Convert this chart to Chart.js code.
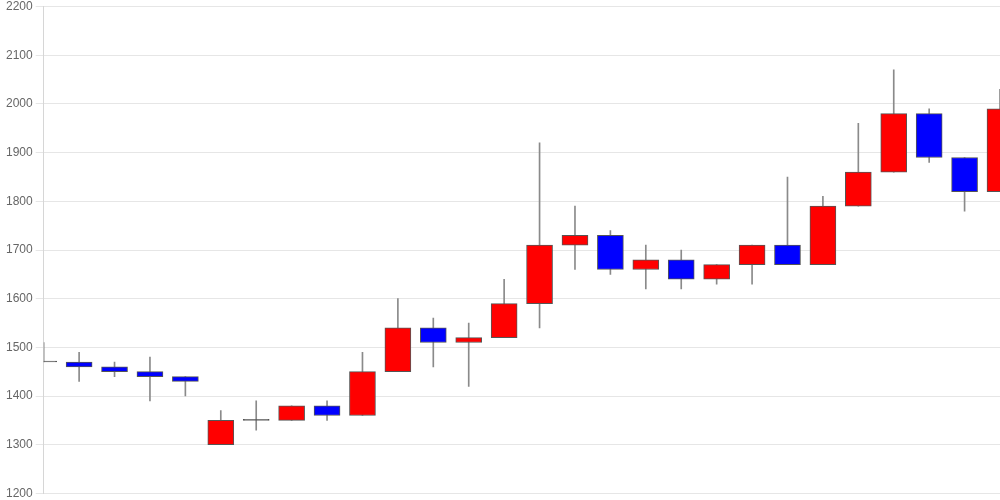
<!DOCTYPE html>
<html>
<head>
<meta charset="utf-8">
<script src="https://cdn.jsdelivr.net/npm/chart.js@4/dist/chart.umd.min.js"></script>
<style>
  html, body { margin: 0; padding: 0; background: #fff; }
  #wrap { width: 1000px; height: 500px; position: relative; }
</style>
</head>
<body>
<div id="wrap"><canvas id="candleChart"></canvas></div>
<script>
// ── Daily candles ───────────────────────────────
const days   = ['1','2','3','4','5','6','7','8','9','10','11','12','13','14',
                '15','16','17','18','19','20','21','22','23','24','25','26','27','28'];
const opens  = [1470,1470,1460,1450,1440,1300,1350,1350,1380,1360,1450,1540,1510,1520,
                1590,1710,1730,1660,1680,1640,1670,1710,1670,1790,1860,1980,1890,1820];
const closes = [1470,1460,1450,1440,1430,1350,1350,1380,1360,1450,1540,1510,1520,1590,
                1710,1730,1660,1680,1640,1670,1710,1670,1790,1860,1980,1890,1820,1990];
const highs  = [1510,1490,1470,1480,1440,1370,1390,1380,1390,1490,1600,1560,1550,1640,
                1920,1790,1740,1710,1700,1670,1710,1850,1810,1960,2070,1990,1890,2030];
const lows   = [1470,1430,1440,1390,1400,1300,1330,1350,1350,1360,1450,1460,1420,1520,
                1540,1660,1650,1620,1620,1630,1630,1670,1670,1790,1860,1880,1780,1820];
const yTicks = [1200,1300,1400,1500,1600,1700,1800,1900,2000,2100,2200];

const bodyColors = opens.map((o, i) => closes[i] > o ? '#ff0000' : (closes[i] < o ? '#0000ff' : '#555'));

new Chart(document.getElementById('candleChart').getContext('2d'), {
  type: 'bar',
  data: {
    labels: days,
    datasets: [
      { // wicks
        data: lows.map((l, i) => [l, highs[i]]),
        backgroundColor: '#8a8a8a', borderWidth: 0,
        barThickness: 1, grouped: false, order: 2
      },
      { // bodies
        data: opens.map((o, i) => [o, closes[i]]),
        backgroundColor: bodyColors, borderColor: '#555', borderWidth: 1,
        borderSkipped: false, barThickness: 26, minBarLength: 1,
        grouped: false, order: 1
      }
    ]
  },
  options: {
    responsive: true, maintainAspectRatio: false, animation: false,
    layout: { padding: { left: 3 } },
    plugins: { legend: { display: false }, tooltip: { enabled: false } },
    scales: {
      x: { display: false, offset: false, grid: { display: false } },
      y: {
        min: 1200, max: 2200,
        afterBuildTicks: axis => { axis.ticks = yTicks.map(v => ({ value: v })); },
        grid: { color: '#e6e6e6' },
        border: { color: '#d6d6d6' },
        ticks: { color: '#666', font: { size: 12, lineHeight: 0.6 }, callback: v => String(v) }
      }
    }
  }
});
</script>
</body>
</html>
